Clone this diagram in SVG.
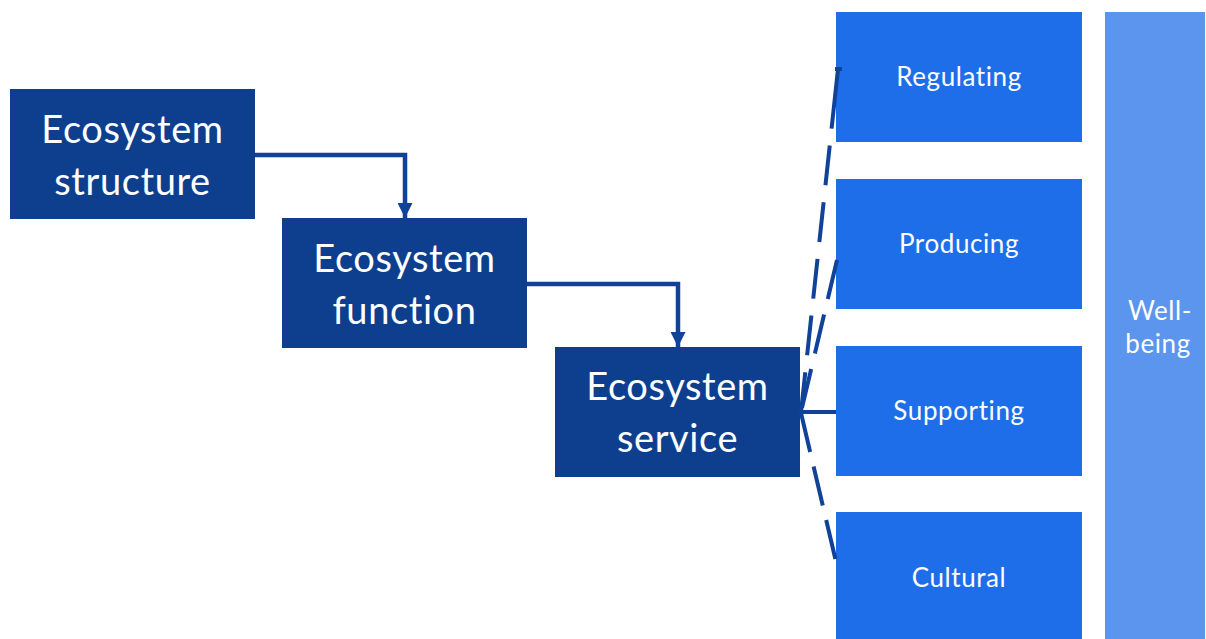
<svg xmlns="http://www.w3.org/2000/svg" width="1206" height="639" viewBox="0 0 1206 639">
  <defs>
    <marker id="arrow" viewBox="0 0 15 15" refX="15" refY="7.5" markerWidth="15" markerHeight="15" markerUnits="userSpaceOnUse" orient="auto">
      <path d="M0,0 L15,7.5 L0,15 Z" fill="#10429A"/>
    </marker>
  </defs>
  <style>
    .stage { fill: #0E3F8F; }
    .service { fill: #1F6EE9; }
    .well { fill: #5B95EE; }
    .big { font-family: Lato, "Open Sans", sans-serif; font-size: 38px; letter-spacing: 0.6px; fill: #FFFFFF; text-anchor: middle; }
    .small { font-family: Lato, "Open Sans", sans-serif; font-size: 26px; letter-spacing: 0.6px; fill: #FFFFFF; text-anchor: middle; }
    .flow { fill: none; stroke: #10429A; stroke-width: 4.5; }
    .link { fill: none; stroke: #10429A; stroke-width: 4; }
  </style>
  <rect width="1206" height="639" fill="#FFFFFF"/>

  <!-- chain of ecosystem stages -->
  <g id="ecosystem-structure">
    <rect class="stage" x="10" y="89" width="245" height="130"/>
    <text class="big" x="132.5" y="143">Ecosystem</text>
    <text class="big" x="132.5" y="195">structure</text>
  </g>
  <g id="ecosystem-function">
    <rect class="stage" x="282" y="218" width="245" height="130"/>
    <text class="big" x="404.5" y="272">Ecosystem</text>
    <text class="big" x="404.5" y="324">function</text>
  </g>
  <g id="ecosystem-service">
    <rect class="stage" x="555" y="347" width="245" height="130"/>
    <text class="big" x="677.5" y="400">Ecosystem</text>
    <text class="big" x="677.5" y="452">service</text>
  </g>

  <!-- service categories -->
  <g id="regulating">
    <rect class="service" x="836" y="12" width="246" height="130"/>
    <text class="small" x="959" y="86">Regulating</text>
  </g>
  <g id="producing">
    <rect class="service" x="836" y="179" width="246" height="130"/>
    <text class="small" x="959" y="253">Producing</text>
  </g>
  <g id="supporting">
    <rect class="service" x="836" y="346" width="246" height="130"/>
    <text class="small" x="959" y="420">Supporting</text>
  </g>
  <g id="cultural">
    <rect class="service" x="836" y="512" width="246" height="127"/>
    <text class="small" x="959" y="587">Cultural</text>
  </g>

  <g id="well-being">
    <rect class="well" x="1105" y="12" width="100" height="627"/>
    <text class="small" x="1160" y="320">Well-</text>
    <text class="small" x="1158" y="353">being</text>
  </g>

  <!-- connectors -->
  <g id="connectors">
    <path class="flow" d="M255,155 H405 V218" marker-end="url(#arrow)"/>
    <path class="flow" d="M527,284 H678 V347" marker-end="url(#arrow)"/>
    <path class="link" d="M801,412 L838,69" stroke-dasharray="40 17 40 17 40 17 40 17 40 17 120"/>
    <path class="link" d="M835,69 H842" stroke-width="3"/>
    <path class="link" d="M837,260 L801,412" stroke-dasharray="40 16"/>
    <path class="link" d="M800,412 H836"/>
    <path class="link" d="M801,413 L837,566" stroke-dasharray="40 15"/>
  </g>
</svg>
